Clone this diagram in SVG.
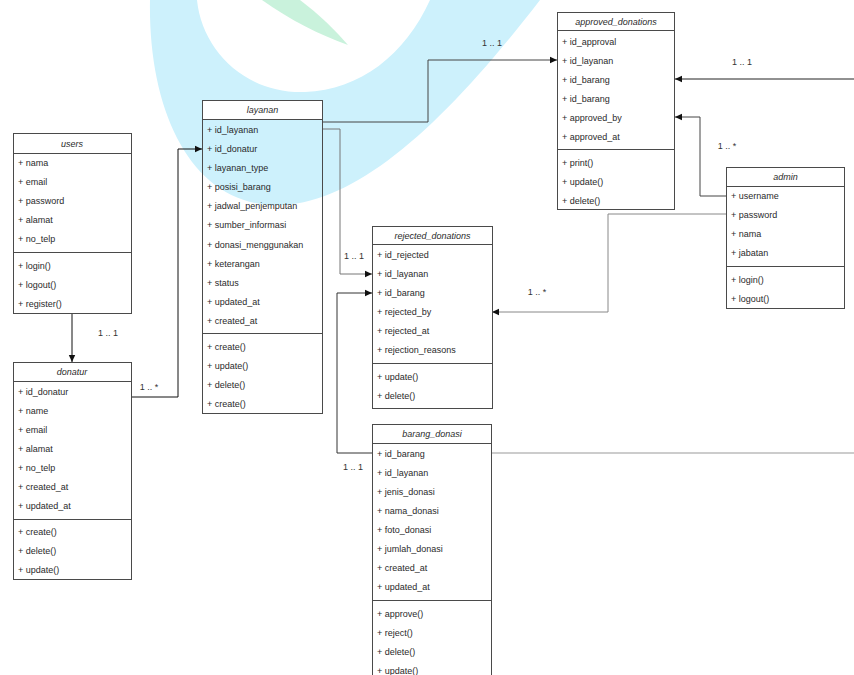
<svg xmlns="http://www.w3.org/2000/svg" width="854" height="675" viewBox="0 0 854 675">
<style>
  text { font-family: "Liberation Sans", Arial, sans-serif; font-size: 9px; fill: #2a2a2a; dominant-baseline: central; }
  .h { font-style: italic; text-anchor: middle; }
  .lbl { text-anchor: middle; fill: #333; }
  .box { fill: none; stroke: #4a4a4a; stroke-width: 1; }
  .hdr { fill: #ffffff; stroke: #4a4a4a; stroke-width: 1; }
  .sep { stroke: #4a4a4a; stroke-width: 1; }
  .c { fill: none; stroke-width: 1; }
</style>
<defs>
  <marker id="arr" markerUnits="userSpaceOnUse" markerWidth="8" markerHeight="8" refX="7" refY="4" orient="auto">
    <path d="M0,0.8 L7,4 L0,7.2 Z" fill="#111"/>
  </marker>
</defs>
<rect width="854" height="675" fill="#ffffff"/>
<g id="watermark">
  <path d="M150,0 C148,110 190,200 270,205 C350,210 440,130 540,0 L430,0 C405,55 360,90 305,92 C245,94 202,50 197,0 Z" fill="#cdf1fc"/>
  <path d="M262,0 L300,0 C320,15 335,30 348,45 C320,35 290,20 262,0 Z" fill="#c9f2dc"/>
</g>
<g id="connectors">
  <path class="c" d="M72,313 V362" stroke="#111" marker-end="url(#arr)"/>
  <path class="c" d="M131,397 H178 V149 H202" stroke="#111" marker-end="url(#arr)"/>
  <path class="c" d="M322,122 H428 V60 H557" stroke="#444" marker-end="url(#arr)"/>
  <path class="c" d="M322,129 H340 V274 H372" stroke="#777" marker-end="url(#arr)"/>
  <path class="c" d="M372,453 H337 V293 H372" stroke="#333" marker-end="url(#arr)"/>
  <path class="c" d="M491,453 H860" stroke="#999"/>
  <path class="c" d="M860,79 H675" stroke="#222" marker-end="url(#arr)"/>
  <path class="c" d="M726,196 H700 V117 H675" stroke="#444" marker-end="url(#arr)"/>
  <path class="c" d="M726,214 H608 V312 H492" stroke="#888" marker-end="url(#arr)"/>
  <text class="lbl" x="108" y="333">1 .. 1</text>
  <text class="lbl" x="149" y="387">1 .. *</text>
  <text class="lbl" x="492" y="43">1 .. 1</text>
  <text class="lbl" x="354" y="256">1 .. 1</text>
  <text class="lbl" x="353" y="467">1 .. 1</text>
  <text class="lbl" x="742" y="62">1 .. 1</text>
  <text class="lbl" x="727" y="146">1 .. *</text>
  <text class="lbl" x="537" y="292">1 .. *</text>
</g>
<g id="users">
  <rect class="box" x="13.5" y="133.5" width="118" height="180"/>
  <rect class="hdr" x="13.5" y="133.5" width="118" height="20"/>
  <text class="h" x="72" y="143.5">users</text>
  <text x="18" y="162.5">+ nama</text>
  <text x="18" y="181.5">+ email</text>
  <text x="18" y="200.5">+ password</text>
  <text x="18" y="219.5">+ alamat</text>
  <text x="18" y="238.5">+ no_telp</text>
  <line class="sep" x1="13.5" y1="252.5" x2="131.5" y2="252.5"/>
  <text x="18" y="265.5">+ login()</text>
  <text x="18" y="284.5">+ logout()</text>
  <text x="18" y="303.5">+ register()</text>
</g>
<g id="donatur">
  <rect class="box" x="13.5" y="362.5" width="118" height="217"/>
  <rect class="hdr" x="13.5" y="362.5" width="118" height="19"/>
  <text class="h" x="72" y="372">donatur</text>
  <text x="18" y="391.5">+ id_donatur</text>
  <text x="18" y="410.5">+ name</text>
  <text x="18" y="429.5">+ email</text>
  <text x="18" y="448.5">+ alamat</text>
  <text x="18" y="467.5">+ no_telp</text>
  <text x="18" y="486.5">+ created_at</text>
  <text x="18" y="505.5">+ updated_at</text>
  <line class="sep" x1="13.5" y1="519.5" x2="131.5" y2="519.5"/>
  <text x="18" y="532">+ create()</text>
  <text x="18" y="551">+ delete()</text>
  <text x="18" y="570">+ update()</text>
</g>
<g id="layanan">
  <rect class="box" x="202.5" y="100.5" width="120" height="313"/>
  <rect class="hdr" x="202.5" y="100.5" width="120" height="19"/>
  <text class="h" x="262.5" y="110">layanan</text>
  <text x="207" y="129.5">+ id_layanan</text>
  <text x="207" y="148.5">+ id_donatur</text>
  <text x="207" y="167.5">+ layanan_type</text>
  <text x="207" y="186.5">+ posisi_barang</text>
  <text x="207" y="205.5">+ jadwal_penjemputan</text>
  <text x="207" y="225">+ sumber_informasi</text>
  <text x="207" y="244.5">+ donasi_menggunakan</text>
  <text x="207" y="263.5">+ keterangan</text>
  <text x="207" y="282.5">+ status</text>
  <text x="207" y="301.5">+ updated_at</text>
  <text x="207" y="320.5">+ created_at</text>
  <line class="sep" x1="202.5" y1="333.5" x2="322.5" y2="333.5"/>
  <text x="207" y="346.5">+ create()</text>
  <text x="207" y="365.5">+ update()</text>
  <text x="207" y="384.5">+ delete()</text>
  <text x="207" y="403.5">+ create()</text>
</g>
<g id="approved_donations">
  <rect class="box" x="557.5" y="12.5" width="117" height="197"/>
  <rect class="hdr" x="557.5" y="12.5" width="117" height="18"/>
  <text class="h" x="616" y="21.5">approved_donations</text>
  <text x="562" y="41.5">+ id_approval</text>
  <text x="562" y="60.5">+ id_layanan</text>
  <text x="562" y="79.5">+ id_barang</text>
  <text x="562" y="98.5">+ id_barang</text>
  <text x="562" y="117.5">+ approved_by</text>
  <text x="562" y="136.5">+ approved_at</text>
  <line class="sep" x1="557.5" y1="149.5" x2="674.5" y2="149.5"/>
  <text x="562" y="162.5">+ print()</text>
  <text x="562" y="181.5">+ update()</text>
  <text x="562" y="200.5">+ delete()</text>
</g>
<g id="rejected_donations">
  <rect class="box" x="372.5" y="226.5" width="120" height="182"/>
  <rect class="hdr" x="372.5" y="226.5" width="120" height="18"/>
  <text class="h" x="432.5" y="235.5">rejected_donations</text>
  <text x="377" y="254.5">+ id_rejected</text>
  <text x="377" y="273.5">+ id_layanan</text>
  <text x="377" y="292.5">+ id_barang</text>
  <text x="377" y="311.5">+ rejected_by</text>
  <text x="377" y="330.5">+ rejected_at</text>
  <text x="377" y="349.5">+ rejection_reasons</text>
  <line class="sep" x1="372.5" y1="363.5" x2="492.5" y2="363.5"/>
  <text x="377" y="376.5">+ update()</text>
  <text x="377" y="395.5">+ delete()</text>
</g>
<g id="barang_donasi">
  <rect class="box" x="372.5" y="424.5" width="119" height="270"/>
  <rect class="hdr" x="372.5" y="424.5" width="119" height="19"/>
  <text class="h" x="432" y="434">barang_donasi</text>
  <text x="377" y="453.5">+ id_barang</text>
  <text x="377" y="472.5">+ id_layanan</text>
  <text x="377" y="491.5">+ jenis_donasi</text>
  <text x="377" y="510.5">+ nama_donasi</text>
  <text x="377" y="529.5">+ foto_donasi</text>
  <text x="377" y="548.5">+ jumlah_donasi</text>
  <text x="377" y="567.5">+ created_at</text>
  <text x="377" y="586.5">+ updated_at</text>
  <line class="sep" x1="372.5" y1="600.5" x2="491.5" y2="600.5"/>
  <text x="377" y="613.5">+ approve()</text>
  <text x="377" y="632.5">+ reject()</text>
  <text x="377" y="651.5">+ delete()</text>
  <text x="377" y="670.5">+ update()</text>
</g>
<g id="admin">
  <rect class="box" x="726.5" y="167.5" width="118" height="141"/>
  <rect class="hdr" x="726.5" y="167.5" width="118" height="19"/>
  <text class="h" x="785.5" y="177">admin</text>
  <text x="731" y="195.5">+ username</text>
  <text x="731" y="214.5">+ password</text>
  <text x="731" y="233.5">+ nama</text>
  <text x="731" y="252.5">+ jabatan</text>
  <line class="sep" x1="726.5" y1="266.5" x2="844.5" y2="266.5"/>
  <text x="731" y="279.5">+ login()</text>
  <text x="731" y="298.5">+ logout()</text>
</g>
</svg>
